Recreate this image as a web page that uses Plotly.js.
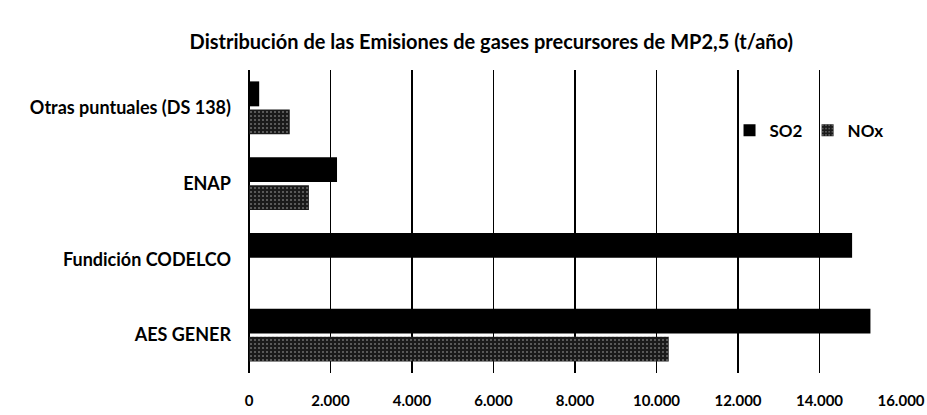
<!DOCTYPE html>
<html>
<head>
<meta charset="utf-8">
<script src="https://cdn.plot.ly/plotly-3.0.1.min.js"></script>
<style>html,body{margin:0;padding:0;background:#fff;}#chart{width:927px;height:415px;}</style>
</head>
<body>
<div id="chart"></div>
<script>
const categories = ['AES GENER', 'Fundición CODELCO', 'ENAP', 'Otras puntuales (DS 138)'];
const so2Values = [15250, 14800, 2160, 250];
const noxValues = [10300, 0, 1470, 1000];
const tickValues = [0, 2000, 4000, 6000, 8000, 10000, 12000, 14000, 16000];

const font = 'Lato, "Open Sans", sans-serif';

const traces = [
  {
    type: 'bar', orientation: 'h', name: 'NOx',
    y: categories, x: noxValues,
    marker: {
      color: '#1e1e1e',
      line: {width: 0},
      pattern: {shape: '.', fgcolor: '#6e6e6e', bgcolor: '#1a1a1a', size: 4, solidity: 0.2}
    }
  },
  {
    type: 'bar', orientation: 'h', name: 'SO2',
    y: categories, x: so2Values,
    marker: {color: '#000', line: {width: 0}}
  }
];

const layout = {
  width: 927, height: 415,
  margin: {l: 249, r: 26, t: 70, b: 42},
  paper_bgcolor: '#fff', plot_bgcolor: '#fff',
  separators: ',.',
  font: {family: font, color: '#000', size: 14},
  title: {
    text: '<b>Distribución de las Emisiones de gases precursores de MP2,5 (t/año)</b>',
    font: {family: font, size: 20, color: '#000'},
    x: 0.53, xanchor: 'center', y: 0.9, yanchor: 'middle'
  },
  barmode: 'group',
  bargap: 0.26,
  bargroupgap: 0.11,
  xaxis: {
    range: [0, 16000],
    tickvals: tickValues,
    tickformat: ',d',
    showgrid: true, gridcolor: '#000', gridwidth: 1.3,
    zeroline: true, zerolinecolor: '#000', zerolinewidth: 1.5,
    showline: false, ticks: '',
    ticklabelstandoff: 17,
    tickfont: {family: font, size: 15, color: '#000', weight: 'bold'},
    fixedrange: true
  },
  yaxis: {
    showgrid: false, zeroline: false, showline: false, ticks: '',
    ticklabelstandoff: 17,
    tickfont: {family: font, size: 18, color: '#000', weight: 'bold'},
    fixedrange: true
  },
  legend: {
    orientation: 'h', traceorder: 'reversed',
    x: 0.737, xanchor: 'left', y: 0.8, yanchor: 'middle',
    bgcolor: 'rgba(0,0,0,0)',
    font: {family: font, size: 17, color: '#000', weight: 'bold'},
    itemwidth: 30
  },
  showlegend: true
};

Plotly.newPlot('chart', traces, layout, {displayModeBar: false, staticPlot: true});
</script>
</body>
</html>
